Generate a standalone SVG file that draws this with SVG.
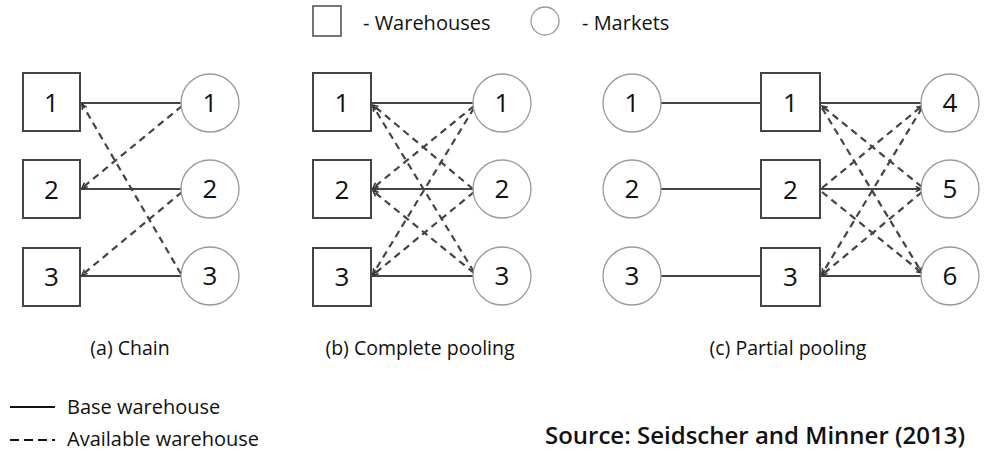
<svg xmlns="http://www.w3.org/2000/svg" width="984" height="452" viewBox="0 0 984 452">
<defs>
<marker id="ah" viewBox="0 0 8 8" refX="7" refY="4" markerWidth="7" markerHeight="7" markerUnits="userSpaceOnUse" orient="auto">
<path d="M1,1 L7,4 L1,7" fill="none" stroke="#333" stroke-width="1.6"/>
</marker>
</defs>
<style>
.wh{fill:#fff;stroke:#444;stroke-width:2}
.mk{fill:#fff;stroke:#9a9a9a;stroke-width:1.3}
.num{font-family:"Open Sans","Noto Sans",sans-serif;font-size:26px;fill:#111;text-anchor:middle}
.solid{stroke:#444;stroke-width:2;fill:none}
.dash{stroke:#444;stroke-width:2.2;fill:none;stroke-dasharray:7 5}
.cap{font-family:"Open Sans","Noto Sans",sans-serif;font-size:19.5px;fill:#111;text-anchor:middle}
.leg{font-family:"Open Sans","Noto Sans",sans-serif;font-size:20px;fill:#111}
.bl{font-family:"Open Sans","Noto Sans",sans-serif;font-size:20px;fill:#111}
.src{font-family:"Open Sans","Noto Sans",sans-serif;font-size:24px;font-weight:600;fill:#111}
</style>
<rect width="984" height="452" fill="#fff"/>

<!-- top legend -->
<g id="legend-top">
<rect x="313" y="6" width="28" height="30" fill="#fff" stroke="#555" stroke-width="1.6"/>
<text class="leg" x="363" y="30">-  Warehouses</text>
<circle cx="545" cy="21" r="14" fill="#fff" stroke="#9a9a9a" stroke-width="1.3"/>
<text class="leg" x="582" y="30">-  Markets</text>
</g>

<!-- connectors -->
<g id="connectors">
<!-- (a) chain -->
<line class="solid" x1="81" y1="103" x2="181" y2="103"/>
<line class="solid" x1="81" y1="189" x2="181" y2="189"/>
<line class="solid" x1="81" y1="276" x2="181" y2="276"/>
<line class="dash" x1="181" y1="274" x2="82" y2="104" marker-end="url(#ah)"/>
<line class="dash" x1="182" y1="106" x2="82" y2="188" marker-end="url(#ah)"/>
<line class="dash" x1="182" y1="192" x2="82" y2="275" marker-end="url(#ah)"/>
<!-- (b) complete pooling -->
<line class="solid" x1="372" y1="103" x2="473" y2="103"/>
<line class="solid" x1="473" y1="189" x2="372" y2="189" marker-end="url(#ah)"/>
<line class="solid" x1="372" y1="276" x2="473" y2="276"/>
<line class="dash" x1="473" y1="189" x2="373" y2="105" marker-end="url(#ah)"/>
<line class="dash" x1="474" y1="272" x2="373" y2="106" marker-end="url(#ah)"/>
<line class="dash" x1="474" y1="106" x2="373" y2="188" marker-end="url(#ah)"/>
<line class="dash" x1="474" y1="273" x2="373" y2="191" marker-end="url(#ah)"/>
<line class="dash" x1="474" y1="108" x2="373" y2="274" marker-end="url(#ah)"/>
<line class="dash" x1="474" y1="192" x2="373" y2="275" marker-end="url(#ah)"/>
<!-- (c) partial pooling -->
<line class="solid" x1="661" y1="103" x2="761" y2="103"/>
<line class="solid" x1="661" y1="189" x2="761" y2="189"/>
<line class="solid" x1="661" y1="276" x2="761" y2="276"/>
<line class="solid" x1="821" y1="103" x2="921" y2="103"/>
<line class="solid" x1="821" y1="189" x2="921" y2="189" marker-end="url(#ah)"/>
<line class="solid" x1="821" y1="276" x2="921" y2="276"/>
<line class="dash" x1="922" y1="187" x2="822" y2="106" marker-end="url(#ah)"/>
<line class="dash" x1="822" y1="108" x2="922" y2="273" marker-end="url(#ah)"/>
<line class="dash" x1="822" y1="188" x2="922" y2="106" marker-end="url(#ah)"/>
<line class="dash" x1="822" y1="192" x2="922" y2="273" marker-end="url(#ah)"/>
<line class="dash" x1="922" y1="108" x2="822" y2="274" marker-end="url(#ah)"/>
<line class="dash" x1="922" y1="192" x2="822" y2="275" marker-end="url(#ah)"/>
</g>

<!-- (a) nodes -->
<g id="a-w1"><rect class="wh" x="23" y="73" width="57" height="58"/><text class="num" x="51.5" y="112">1</text></g>
<g id="a-w2"><rect class="wh" x="23" y="160" width="57" height="58"/><text class="num" x="51.5" y="199">2</text></g>
<g id="a-w3"><rect class="wh" x="23" y="248" width="57" height="58"/><text class="num" x="51.5" y="286">3</text></g>
<g id="a-m1"><circle class="mk" cx="210" cy="103" r="29"/><text class="num" x="210" y="112">1</text></g>
<g id="a-m2"><circle class="mk" cx="210" cy="189" r="29"/><text class="num" x="210" y="198">2</text></g>
<g id="a-m3"><circle class="mk" cx="210" cy="276" r="29"/><text class="num" x="210" y="285">3</text></g>

<!-- (b) nodes -->
<g id="b-w1"><rect class="wh" x="313" y="73" width="58" height="58"/><text class="num" x="342" y="112">1</text></g>
<g id="b-w2"><rect class="wh" x="313" y="160" width="58" height="58"/><text class="num" x="342" y="199">2</text></g>
<g id="b-w3"><rect class="wh" x="313" y="248" width="58" height="58"/><text class="num" x="342" y="286">3</text></g>
<g id="b-m1"><circle class="mk" cx="502" cy="103" r="29"/><text class="num" x="502" y="112">1</text></g>
<g id="b-m2"><circle class="mk" cx="502" cy="189" r="29"/><text class="num" x="502" y="198">2</text></g>
<g id="b-m3"><circle class="mk" cx="502" cy="276" r="29"/><text class="num" x="502" y="285">3</text></g>

<!-- (c) nodes -->
<g id="c-l1"><circle class="mk" cx="632" cy="103" r="29"/><text class="num" x="632" y="112">1</text></g>
<g id="c-l2"><circle class="mk" cx="632" cy="189" r="29"/><text class="num" x="632" y="198">2</text></g>
<g id="c-l3"><circle class="mk" cx="632" cy="276" r="29"/><text class="num" x="632" y="285">3</text></g>
<g id="c-w1"><rect class="wh" x="761" y="73" width="59" height="58"/><text class="num" x="790.5" y="112">1</text></g>
<g id="c-w2"><rect class="wh" x="761" y="160" width="59" height="58"/><text class="num" x="790.5" y="199">2</text></g>
<g id="c-w3"><rect class="wh" x="761" y="248" width="59" height="58"/><text class="num" x="790.5" y="286">3</text></g>
<g id="c-m4"><circle class="mk" cx="950" cy="103" r="29"/><text class="num" x="950" y="112">4</text></g>
<g id="c-m5"><circle class="mk" cx="950" cy="189" r="29"/><text class="num" x="950" y="198">5</text></g>
<g id="c-m6"><circle class="mk" cx="950" cy="276" r="29"/><text class="num" x="950" y="285">6</text></g>

<!-- captions -->
<text class="cap" x="130" y="355">(a) Chain</text>
<text class="cap" x="420" y="355">(b) Complete pooling</text>
<text class="cap" x="788" y="355">(c) Partial pooling</text>

<!-- bottom legend -->
<g id="legend-bottom">
<line x1="10" y1="407" x2="55" y2="407" stroke="#111" stroke-width="2.2"/>
<text class="bl" x="67" y="414">Base warehouse</text>
<line x1="10" y1="440" x2="55" y2="440" stroke="#111" stroke-width="2.2" stroke-dasharray="9 5"/>
<text class="bl" x="67" y="446">Available warehouse</text>
</g>
<text class="src" x="545" y="444">Source: Seidscher and Minner (2013)</text>
</svg>
